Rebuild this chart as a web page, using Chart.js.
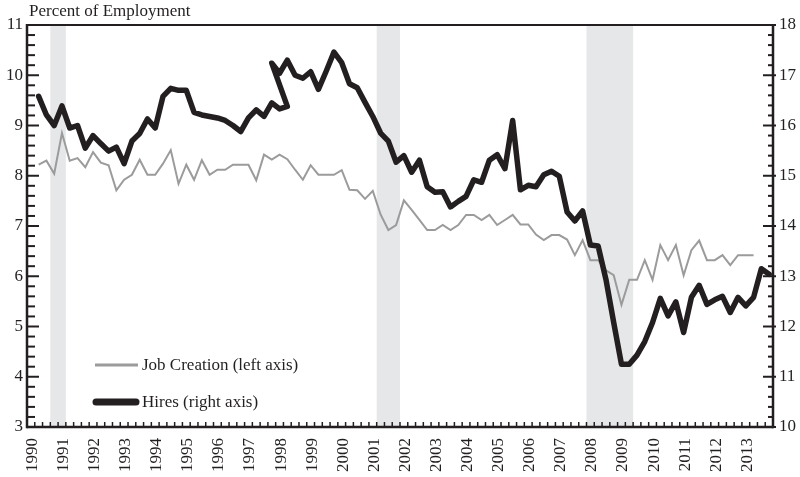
<!DOCTYPE html>
<html>
<head>
<meta charset="utf-8">
<title>Job Creation and Hires</title>
<script src="https://cdn.jsdelivr.net/npm/chart.js@4.4.0/dist/chart.umd.min.js"></script>
<style>
  html, body { margin: 0; padding: 0; background: #fff; }
  #chart { display: block; }
</style>
</head>
<body>
<canvas id="chart" width="800" height="477"></canvas>
<script>
// Quarterly data, axis runs 1990Q1 .. 2013Q4
const firstYear = 1990;
const quarterCount = 96;
const yearLabels = ["1990", "1991", "1992", "1993", "1994", "1995", "1996", "1997",
  "1998", "1999", "2000", "2001", "2002", "2003", "2004", "2005",
  "2006", "2007", "2008", "2009", "2010", "2011", "2012", "2013"];

// Job creation, percent of employment (left axis)
const jobCreationStart = "1990Q2";
const jobCreation = [
  8.22, 8.30, 8.04, 8.85, 8.30, 8.35, 8.17, 8.47, 8.26, 8.21,
  7.71, 7.92, 8.02, 8.32, 8.02, 8.02, 8.24, 8.51, 7.84, 8.22,
  7.92, 8.31, 8.02, 8.12, 8.12, 8.22, 8.22, 8.22, 7.91, 8.42,
  8.32, 8.42, 8.33, 8.12, 7.92, 8.21, 8.02, 8.02, 8.02, 8.11,
  7.72, 7.71, 7.54, 7.70, 7.23, 6.92, 7.02, 7.51, 7.32, 7.12,
  6.92, 6.92, 7.02, 6.92, 7.02, 7.22, 7.22, 7.12, 7.22, 7.02,
  7.12, 7.22, 7.03, 7.03, 6.83, 6.72, 6.82, 6.82, 6.73, 6.42,
  6.72, 6.32, 6.32, 6.12, 6.02, 5.43, 5.93, 5.93, 6.32, 5.93,
  6.62, 6.32, 6.62, 6.02, 6.52, 6.71, 6.32, 6.32, 6.42, 6.22,
  6.42, 6.42, 6.42
];

// Hires, percent of employment (right axis): two spliced series that overlap
const hiresOldStart = "1990Q2";
const hiresOld = [
  16.58, 16.21, 16.00, 16.39, 15.95, 16.00, 15.55, 15.80, 15.64, 15.49,
  15.57, 15.24, 15.69, 15.84, 16.13, 15.95, 16.58, 16.74, 16.70, 16.70,
  16.26, 16.21, 16.18, 16.15, 16.10, 16.00, 15.88, 16.15, 16.31, 16.18,
  16.45, 16.33, 16.38
];
const hiresNewStart = "1997Q4";
const hiresNew = [
  17.24, 17.04, 17.30, 17.00, 16.94, 17.07, 16.72, 17.08, 17.46, 17.25,
  16.83, 16.75, 16.46, 16.18, 15.85, 15.69, 15.27, 15.40, 15.07, 15.31,
  14.78, 14.67, 14.68, 14.38, 14.49, 14.59, 14.92, 14.87, 15.31, 15.42,
  15.14, 16.10, 14.72, 14.81, 14.78, 15.02, 15.09, 14.99, 14.28, 14.10,
  14.30, 13.62, 13.60, 12.94, 12.08, 11.25, 11.25, 11.43, 11.70, 12.08,
  12.56, 12.21, 12.49, 11.88, 12.58, 12.82, 12.44, 12.53, 12.60, 12.28,
  12.58, 12.41, 12.58, 13.15, 13.04
];

// Recessions (first and last quarter, shaded)
const recessions = [["1990Q4", "1991Q1"], ["2001Q2", "2001Q4"], ["2008Q1", "2009Q2"]];

const ink = "#231f20";
const serif = '"Liberation Serif", "DejaVu Serif", serif';

function quarterIndex(label) {
  const year = parseInt(label.slice(0, 4));
  const q = parseInt(label.slice(5));
  return (year - firstYear) * 4 + (q - 1);
}

function toPoints(start, values) {
  const s = quarterIndex(start);
  return values.map((v, i) => ({ x: s + i + 0.5, y: v }));
}

const hiresPoints = toPoints(hiresOldStart, hiresOld).concat(toPoints(hiresNewStart, hiresNew));

function line(ctx, x0, y0, x1, y1) {
  ctx.beginPath();
  ctx.moveTo(x0, y0);
  ctx.lineTo(x1, y1);
  ctx.stroke();
}

// grey recession bands behind the lines
const recessionBands = {
  id: "recessionBands",
  beforeDatasetsDraw(chart) {
    const { ctx, chartArea, scales } = chart;
    ctx.save();
    ctx.fillStyle = "#e6e7e8";
    recessions.forEach(([from, to]) => {
      const x0 = scales.x.getPixelForValue(quarterIndex(from));
      const x1 = scales.x.getPixelForValue(quarterIndex(to) + 1);
      ctx.fillRect(x0, chartArea.top + 1, x1 - x0, chartArea.bottom - chartArea.top - 1);
    });
    ctx.restore();
  }
};

// frame, inward tick marks, title and legend
const axisFrame = {
  id: "axisFrame",
  afterDatasetsDraw(chart) {
    const { ctx, chartArea: a, scales } = chart;
    ctx.save();
    ctx.strokeStyle = ink;
    ctx.lineCap = "butt";

    // left axis ticks (every 0.2)
    ctx.lineWidth = 2;
    for (let i = 0; i <= 40; i++) {
      const y = scales.y.getPixelForValue(3 + i * 0.2);
      line(ctx, a.left, y, a.left + (i % 5 === 0 ? 12 : 8), y);
    }
    // right axis ticks
    for (let i = 0; i <= 40; i++) {
      const y = scales.y2.getPixelForValue(10 + i * 0.2);
      if (i % 5 === 0) line(ctx, a.right - 10, y, a.right + 3, y);
      else line(ctx, a.right - 5, y, a.right, y);
    }
    // bottom ticks, one per quarter
    ctx.lineWidth = 1.5;
    for (let q = 0; q <= quarterCount; q++) {
      const x = scales.x.getPixelForValue(q);
      line(ctx, x, a.bottom, x, a.bottom - 5);
    }

    // frame
    ctx.lineWidth = 2;
    line(ctx, a.left, a.top, a.right, a.top);
    ctx.lineWidth = 2.5;
    line(ctx, a.left, a.top - 1, a.left, a.bottom + 1.25);
    line(ctx, a.right, a.top - 1, a.right, a.bottom + 1.25);
    line(ctx, a.left, a.bottom, a.right, a.bottom);

    // title
    ctx.fillStyle = ink;
    ctx.font = "17px " + serif;
    ctx.textAlign = "left";
    ctx.textBaseline = "alphabetic";
    ctx.fillText("Percent of Employment", 29, 16);

    // legend
    ctx.lineCap = "butt";
    ctx.strokeStyle = "#9b9b9b";
    ctx.lineWidth = 3;
    line(ctx, 95, 365, 138, 365);
    ctx.lineCap = "round";
    ctx.strokeStyle = ink;
    ctx.lineWidth = 7;
    line(ctx, 96, 402, 136, 402);
    ctx.textBaseline = "middle";
    ctx.fillText("Job Creation (left axis)", 142, 366);
    ctx.fillText("Hires (right axis)", 142, 403);
    ctx.restore();
  }
};

const tickFont = { family: serif, size: 17 };

new Chart(document.getElementById("chart"), {
  type: "line",
  data: {
    datasets: [
      {
        label: "Job Creation (left axis)",
        data: toPoints(jobCreationStart, jobCreation),
        yAxisID: "y",
        borderColor: "#9b9b9b",
        borderWidth: 2,
        pointRadius: 0,
        order: 1
      },
      {
        label: "Hires (right axis)",
        data: hiresPoints,
        yAxisID: "y2",
        borderColor: ink,
        borderWidth: 5.5,
        borderJoinStyle: "round",
        borderCapStyle: "round",
        pointRadius: 0,
        order: 0
      }
    ]
  },
  options: {
    responsive: false,
    animation: false,
    devicePixelRatio: 1,
    layout: { padding: { top: 25, left: 0, right: 0, bottom: 0 } },
    plugins: {
      legend: { display: false },
      tooltip: { enabled: false }
    },
    scales: {
      x: {
        type: "linear",
        min: 0,
        max: quarterCount,
        grid: { display: false, drawTicks: false },
        border: { display: false },
        afterBuildTicks: (scale) => {
          scale.ticks = yearLabels.map((_, i) => ({ value: i * 4 + 0.5 }));
        },
        ticks: {
          autoSkip: false,
          minRotation: 90,
          maxRotation: 90,
          padding: 11,
          labelOffset: 1.5,
          color: ink,
          font: tickFont,
          callback: (value, index) => yearLabels[index]
        },
        afterFit: (scale) => { scale.height = 50; }
      },
      y: {
        position: "left",
        min: 3,
        max: 11,
        grid: { display: false, drawTicks: false },
        border: { display: false },
        ticks: { stepSize: 1, padding: 4, color: ink, font: tickFont },
        afterFit: (scale) => { scale.width = 27; }
      },
      y2: {
        position: "right",
        min: 10,
        max: 18,
        grid: { display: false, drawTicks: false },
        border: { display: false },
        ticks: { stepSize: 1, padding: 6, color: ink, font: tickFont },
        afterFit: (scale) => { scale.width = 27; }
      }
    }
  },
  plugins: [recessionBands, axisFrame]
});
</script>
</body>
</html>
